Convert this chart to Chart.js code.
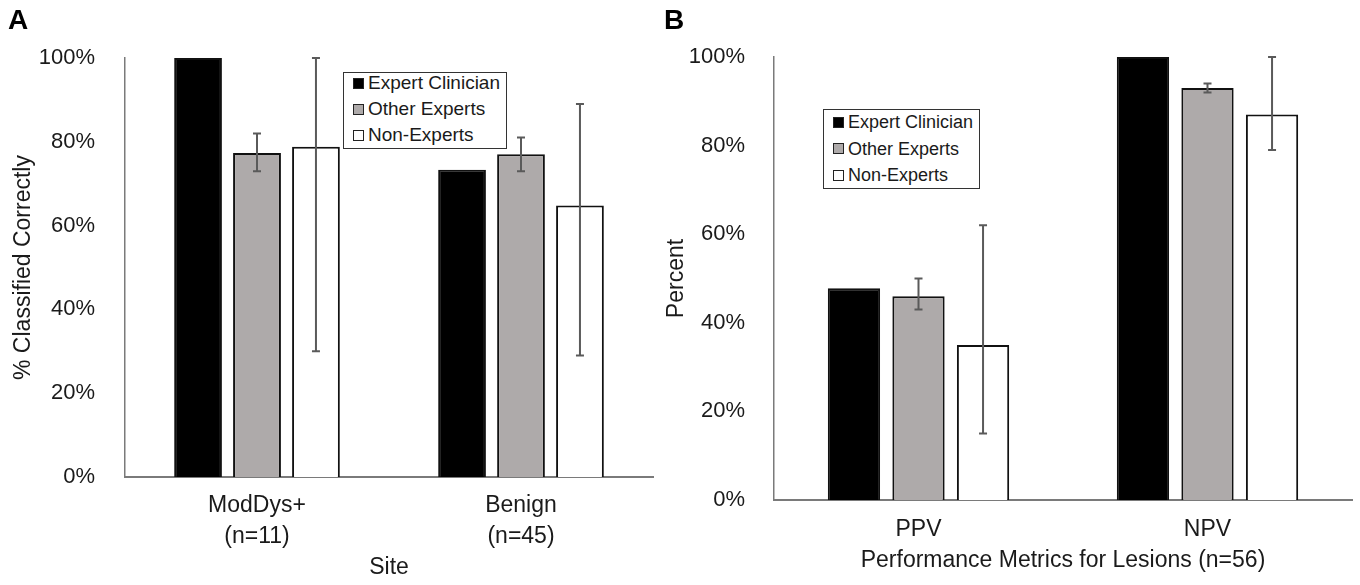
<!DOCTYPE html>
<html>
<head>
<meta charset="utf-8">
<script src="https://cdn.jsdelivr.net/npm/chart.js@4.4.1/dist/chart.umd.min.js"></script>
<style>
  body { margin: 0; background: #fff; font-family: "Liberation Sans", Arial, sans-serif; }
  #wrap { position: relative; width: 1360px; height: 585px; overflow: hidden; }
  .panel { position: absolute; top: 0; height: 585px; }
  .letter { position: absolute; font-weight: bold; font-size: 28px; color: #000; }
  .legend { position: absolute; border: 1.5px solid #333; background: #fff; box-sizing: border-box; padding: 0 0 0 9px; color: #1a1a1a; }
  .legend div { display: flex; align-items: center; white-space: nowrap; }
  .legend span.sw { display: inline-block; width: 9px; height: 9px; border: 1.5px solid #222; margin-right: 4px; }
</style>
</head>
<body>
<div id="wrap">
  <div class="panel" style="left:0; width:660px"><canvas id="chartA"></canvas></div>
  <div class="panel" style="left:660px; width:700px"><canvas id="chartB"></canvas></div>
  <div class="letter" style="left:8px; top:4px">A</div>
  <div class="letter" style="left:664px; top:4px">B</div>
  <div class="legend" id="legendA" style="left:343px; top:72px; width:164px; height:77px; font-size:19px; line-height:26px"></div>
  <div class="legend" id="legendB" style="left:823px; top:109px; width:157px; height:80px; font-size:18px; line-height:26.5px"></div>
</div>
<script>
// series names and colours
const seriesNames = ["Expert Clinician", "Other Experts", "Non-Experts"];
const seriesColors = ["#000000", "#aeaaaa", "#ffffff"];

// Panel A: % classified correctly by site
const sitesA = [["ModDys+", "(n=11)"], ["Benign", "(n=45)"]];
const expertA = [100, 73.3];
const otherA = [77.3, 77.0];
const otherA_low = [73, 73];
const otherA_high = [82, 81];
const nonA = [78.8, 64.8];
const nonA_low = [30, 29];
const nonA_high = [100, 89];

// Panel B: PPV / NPV
const metricsB = ["PPV", "NPV"];
const expertB = [47.8, 100];
const otherB = [46.0, 93.0];
const otherB_low = [43, 92];
const otherB_high = [50, 94];
const nonB = [35.0, 87.0];
const nonB_low = [15, 79];
const nonB_high = [62, 100];

const yTicks = [0, 20, 40, 60, 80, 100];

// draws the error whiskers from the low/high arrays
const errorBars = {
  id: "errorBars",
  afterDatasetsDraw(chart) {
    const ctx = chart.ctx;
    const yScale = chart.scales.y;
    ctx.save();
    ctx.strokeStyle = "#5a5a5a";
    ctx.lineWidth = 2;
    chart.data.datasets.forEach((ds, i) => {
      if (!ds.errLow) return;
      const meta = chart.getDatasetMeta(i);
      meta.data.forEach((bar, j) => {
        const yl = yScale.getPixelForValue(ds.errLow[j]);
        const yh = yScale.getPixelForValue(ds.errHigh[j]);
        ctx.beginPath();
        ctx.moveTo(bar.x, yl); ctx.lineTo(bar.x, yh);
        ctx.moveTo(bar.x - 4, yl); ctx.lineTo(bar.x + 4, yl);
        ctx.moveTo(bar.x - 4, yh); ctx.lineTo(bar.x + 4, yh);
        ctx.stroke();
      });
    });
    ctx.restore();
  }
};

function makeDatasets(vals, lows, highs) {
  return vals.map((v, i) => ({
    label: seriesNames[i],
    data: v,
    backgroundColor: seriesColors[i],
    borderColor: "#111",
    borderWidth: 2,
    errLow: lows[i],
    errHigh: highs[i],
    categoryPercentage: 0.67,
    barPercentage: 0.81
  }));
}

function makeChart(id, labels, datasets, cfg) {
  return new Chart(document.getElementById(id), {
    type: "bar",
    data: { labels: labels, datasets: datasets },
    options: {
      responsive: true,
      maintainAspectRatio: false,
      animation: false,
      layout: { padding: { top: cfg.top, right: cfg.right, left: 0, bottom: 0 } },
      plugins: { legend: { display: false }, tooltip: { enabled: false } },
      scales: {
        x: {
          grid: { display: false },
          border: { display: true, color: "#7a7a7a", width: 2 },
          ticks: { color: "#1a1a1a", padding: cfg.xPad, font: { size: 23, lineHeight: 1.35 } },
          title: { display: true, text: cfg.xTitle, color: "#1a1a1a", font: { size: 23 }, padding: { bottom: cfg.xTitlePad } },
          afterFit(s) { s.height = cfg.xHeight; }
        },
        y: {
          min: 0, max: 100,
          afterBuildTicks(s) { s.ticks = yTicks.map(v => ({ value: v })); },
          grid: { display: false },
          border: { display: true, color: "#7a7a7a", width: 1.5 },
          ticks: { color: "#1a1a1a", padding: cfg.yPad, font: { size: 22 }, callback: v => v + "%" },
          title: { display: true, text: cfg.yTitle, color: "#1a1a1a", font: { size: 23 }, padding: { top: cfg.yTitlePad } },
          afterFit(s) { s.width = cfg.yWidth; }
        }
      }
    },
    plugins: [errorBars]
  });
}

Chart.defaults.font.family = '"Liberation Sans", Arial, sans-serif';

makeChart("chartA", sitesA,
  makeDatasets([expertA, otherA, nonA], [null, otherA_low, nonA_low], [null, otherA_high, nonA_high]),
  { top: 58, right: 7, xHeight: 108, yWidth: 125, xPad: 5, yPad: 22,
    xTitle: "Site", yTitle: "% Classified Correctly", xTitlePad: 4, yTitlePad: 10 });

makeChart("chartB", metricsB,
  makeDatasets([expertB, otherB, nonB], [null, otherB_low, nonB_low], [null, otherB_high, nonB_high]),
  { top: 57, right: 8, xHeight: 85, yWidth: 114, xPad: 6, yPad: 21,
    xTitle: "Performance Metrics for Lesions (n=56)", yTitle: "Percent", xTitlePad: 11, yTitlePad: 3 });

// HTML legends built from the series names
["legendA", "legendB"].forEach((id, k) => {
  const el = document.getElementById(id);
  el.innerHTML = seriesNames.map((n, i) =>
    '<div><span class="sw" style="background:' + seriesColors[i] + '"></span>' + n + '</div>').join("");
  el.firstChild.style.marginTop = (k === 0 ? -3 : -1) + "px";
});
</script>
</body>
</html>
